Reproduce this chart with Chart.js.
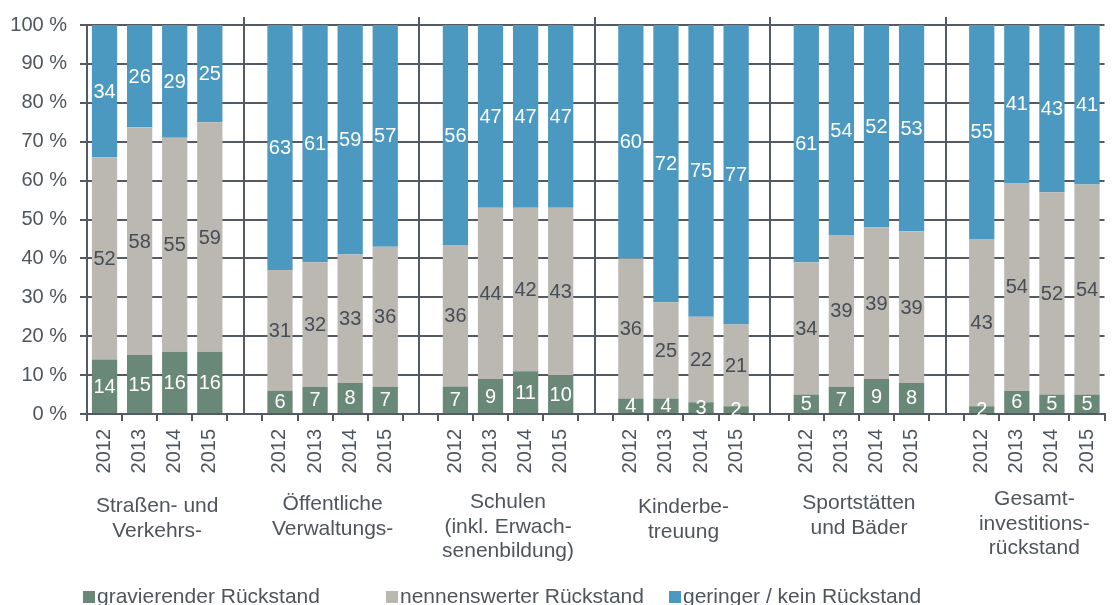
<!DOCTYPE html>
<html lang="de">
<head>
  <meta charset="UTF-8" />
  <title>Investitionsrückstand</title>
  <script src="https://cdn.jsdelivr.net/npm/chart.js"></script>
  <style>
    html, body {
      margin: 0;
      padding: 0;
      background: #fff;
      overflow: hidden;
    }
    .chart-box {
      position: relative;
      width: 1119px;
      height: 605px;
    }
  </style>
</head>
<body>
  <div class="chart-box">
    <canvas id="chart"></canvas>
  </div>

  <script>
    // Daten
    const years = ["2012", "2013", "2014", "2015"];
    const groupNames = [
      ["Straßen- und", "Verkehrs-"],
      ["Öffentliche", "Verwaltungs-"],
      ["Schulen", "(inkl. Erwach-", "senenbildung)"],
      ["Kinderbe-", "treuung"],
      ["Sportstätten", "und Bäder"],
      ["Gesamt-", "investitions-", "rückstand"]
    ];
    const gravierend = [[14, 15, 16, 16], [6, 7, 8, 7], [7, 9, 11, 10], [4, 4, 3, 2], [5, 7, 9, 8], [2, 6, 5, 5]];
    const nennenswert = [[52, 58, 55, 59], [31, 32, 33, 36], [36, 44, 42, 43], [36, 25, 22, 21], [34, 39, 39, 39], [43, 54, 52, 54]];
    const gering = [[34, 26, 29, 25], [63, 61, 59, 57], [56, 47, 47, 47], [60, 72, 75, 77], [61, 54, 52, 53], [55, 41, 43, 41]];
    const seriesNames = ["gravierender Rückstand", "nennenswerter Rückstand", "geringer / kein Rückstand"];
    const yTicks = [0, 10, 20, 30, 40, 50, 60, 70, 80, 90, 100];

    const colors = ["#6a8878", "#bbb8b1", "#4b98c0"];
    const textColor = "#4f555d";
    const lineColor = "#535a61";
    const fontFamily = '"Liberation Sans", Arial, sans-serif';

    // Kategorien: 4 Jahre je Gruppe, dazwischen eine leere Spalte
    const labels = [];
    const raw = [[], [], []];
    const series = [gravierend, nennenswert, gering];
    groupNames.forEach((g, gi) => {
      years.forEach((y, yi) => {
        labels.push(y);
        series.forEach((s, si) => raw[si].push(s[gi][yi]));
      });
      if (gi < groupNames.length - 1) {
        labels.push("");
        raw.forEach(r => r.push(null));
      }
    });
    // 100%-Stapel
    const totals = raw[0].map((v, i) => v === null ? null : raw[0][i] + raw[1][i] + raw[2][i]);
    const scaled = raw.map(r => r.map((v, i) => v === null ? null : v / totals[i] * 100));

    const gapIndexes = groupNames.slice(0, -1).map((g, gi) => gi * 5 + 4);
    const labelBaselines = [512, 510, 508, 513, 509, 505];

    const valueLabels = {
      id: "valueLabels",
      afterDatasetsDraw(chart) {
        const ctx = chart.ctx;
        ctx.save();
        ctx.font = "20px " + fontFamily;
        ctx.textAlign = "center";
        ctx.textBaseline = "middle";
        chart.data.datasets.forEach((ds, di) => {
          const meta = chart.getDatasetMeta(di);
          meta.data.forEach((bar, i) => {
            if (raw[di][i] === null) return;
            ctx.fillStyle = di === 1 ? "#464d55" : "#ffffff";
            ctx.fillText(String(raw[di][i]), bar.x, (bar.y + bar.base) / 2 + 1);
          });
        });
        ctx.restore();
      }
    };

    const groupDecor = {
      id: "groupDecor",
      beforeDatasetsDraw(chart) {
        const ctx = chart.ctx;
        const x = chart.scales.x;
        const area = chart.chartArea;
        ctx.save();
        ctx.strokeStyle = lineColor;
        ctx.lineWidth = 2;
        gapIndexes.forEach(i => {
          const px = Math.round(x.getPixelForValue(i)) - 1;
          ctx.beginPath();
          ctx.moveTo(px, area.top - 8);
          ctx.lineTo(px, area.bottom);
          ctx.stroke();
        });
        ctx.restore();
      },
      afterDraw(chart) {
        const ctx = chart.ctx;
        const x = chart.scales.x;
        ctx.save();
        ctx.font = "21px " + fontFamily;
        ctx.fillStyle = textColor;
        ctx.textAlign = "center";
        ctx.textBaseline = "alphabetic";
        groupNames.forEach((lines, gi) => {
          const cx = x.getPixelForValue(gi * 5 + 1.5);
          lines.forEach((t, li) => {
            ctx.fillText(t, cx, labelBaselines[gi] + li * 24.5);
          });
        });
        // Legende
        const legendX = [83, 386, 669];
        ctx.textAlign = "left";
        chart.data.datasets.forEach((ds, di) => {
          ctx.fillStyle = ds.backgroundColor;
          ctx.fillRect(legendX[di], 591, 12, 12);
          ctx.fillStyle = textColor;
          ctx.fillText(ds.label, legendX[di] + 14, 603);
        });
        ctx.restore();
      }
    };

    Chart.defaults.font.family = fontFamily;
    Chart.defaults.font.size = 20;
    Chart.defaults.color = textColor;

    new Chart(document.getElementById("chart"), {
      type: "bar",
      data: {
        labels: labels,
        datasets: scaled.map((d, i) => ({
          label: seriesNames[i],
          data: d,
          backgroundColor: colors[i],
          borderWidth: 0,
          barPercentage: 0.72,
          categoryPercentage: 1
        }))
      },
      options: {
        responsive: true,
        maintainAspectRatio: false,
        animation: false,
        layout: { padding: { top: 23, right: 0, left: 0, bottom: 0 } },
        plugins: {
          legend: { display: false },
          tooltip: { enabled: false }
        },
        scales: {
          x: {
            stacked: true,
            offset: true,
            afterFit(scale) { scale.height = 191; },
            grid: {
              drawOnChartArea: false,
              drawTicks: true,
              tickLength: 7,
              color: lineColor,
              lineWidth: 2
            },
            border: { display: true, color: lineColor, width: 2 },
            ticks: {
              autoSkip: false,
              minRotation: 90,
              maxRotation: 90,
              padding: 8,
              color: textColor,
              font: { size: 20 }
            }
          },
          y: {
            stacked: true,
            min: 0,
            max: 100,
            afterFit(scale) { scale.width = 87; },
            afterBuildTicks(scale) { scale.ticks = yTicks.map(v => ({ value: v })); },
            grid: {
              color: lineColor,
              lineWidth: 2,
              tickLength: 7
            },
            border: { display: true, color: lineColor, width: 2 },
            ticks: {
              padding: 13,
              color: textColor,
              font: { size: 20 },
              callback: v => v + " %"
            }
          }
        }
      },
      plugins: [valueLabels, groupDecor]
    });
  </script>
</body>
</html>
